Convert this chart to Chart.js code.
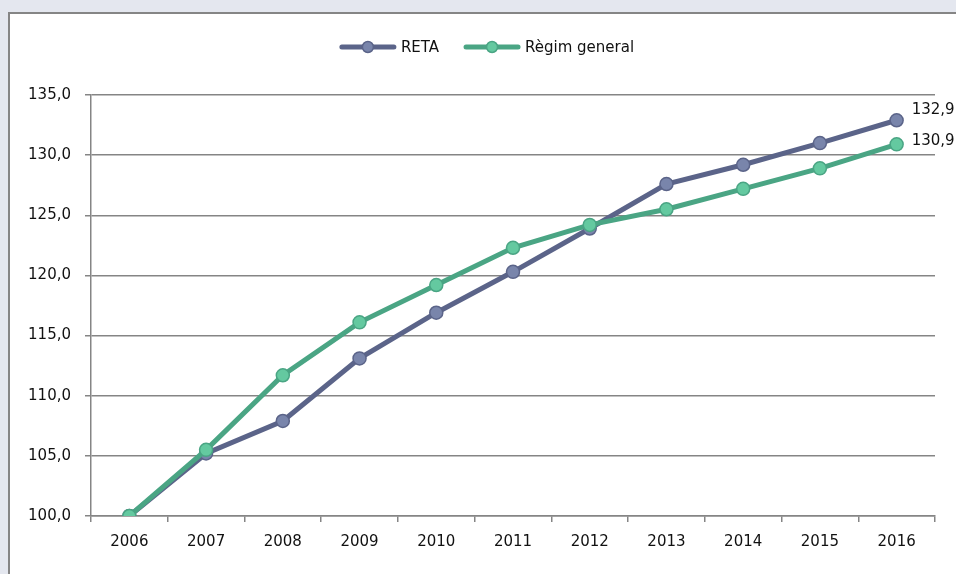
<!DOCTYPE html>
<html>
<head>
<meta charset="utf-8">
<script src="https://cdn.jsdelivr.net/npm/chart.js@4"></script>
<style>
  html, body { margin: 0; padding: 0; }
  body { width: 956px; height: 574px; background: #e4e7ef; overflow: hidden; position: relative; }
  .frame { position: absolute; left: 8px; top: 12px; width: 1000px; height: 620px; background: #fff; border: 2px solid #858585; }
  #indexChart { position: absolute; left: 0; top: 0; }
</style>
</head>
<body>
<div class="frame"></div>
<canvas id="indexChart" width="956" height="574"></canvas>
<script>
// index 2006 = 100
const years = ['2006', '2007', '2008', '2009', '2010', '2011', '2012', '2013', '2014', '2015', '2016'];
const reta = [100, 105.2, 107.9, 113.1, 116.9, 120.3, 123.9, 127.6, 129.2, 131.0, 132.9];
const regimGeneral = [100, 105.5, 111.7, 116.1, 119.2, 122.3, 124.2, 125.5, 127.2, 128.9, 130.9];
const yTicks = [100, 105, 110, 115, 120, 125, 130, 135];

const FONT = 'DejaVu Sans';
const GRID = '#858585';
const fmt = v => v.toFixed(1).replace('.', ',');

// legend: line + circle marker, centred above the plot
const legendPlugin = {
  id: 'topLegend',
  afterDraw(chart) {
    const ctx = chart.ctx;
    const items = chart.data.datasets;
    ctx.save();
    ctx.font = '15px ' + FONT;
    ctx.textBaseline = 'middle';
    const lineW = 56, gap = 5, spacing = 25;
    const widths = items.map(d => lineW + gap + ctx.measureText(d.label).width);
    const total = widths.reduce((a, b) => a + b, 0) + spacing * (items.length - 1);
    let x = (chart.width - total) / 2 + 9;
    const y = 47;
    items.forEach((d, i) => {
      ctx.strokeStyle = d.borderColor;
      ctx.lineWidth = 5;
      ctx.lineCap = 'round';
      ctx.beginPath();
      ctx.moveTo(x + 2, y);
      ctx.lineTo(x + lineW - 2, y);
      ctx.stroke();
      ctx.beginPath();
      ctx.arc(x + lineW / 2, y, 5.5, 0, Math.PI * 2);
      ctx.fillStyle = d.pointBackgroundColor;
      ctx.fill();
      ctx.lineWidth = 1.5;
      ctx.stroke();
      ctx.fillStyle = '#111';
      ctx.fillText(d.label, x + lineW + gap, y + 1);
      x += widths[i] + spacing;
    });
    ctx.restore();
  }
};

// value label beside the last point of each series
const endLabels = {
  id: 'endLabels',
  afterDatasetsDraw(chart) {
    const ctx = chart.ctx;
    ctx.save();
    ctx.font = '15px ' + FONT;
    ctx.fillStyle = '#111';
    ctx.textBaseline = 'middle';
    chart.data.datasets.forEach((d, i) => {
      const meta = chart.getDatasetMeta(i);
      const pt = meta.data[meta.data.length - 1];
      const val = d.data[d.data.length - 1];
      ctx.fillText(fmt(val), pt.x + 15, pt.y + d.labelShift);
    });
    ctx.restore();
  }
};

new Chart(document.getElementById('indexChart'), {
  type: 'line',
  data: {
    labels: years,
    datasets: [
      {
        label: 'RETA',
        data: reta,
        order: 1,
        borderColor: '#5b6489',
        borderWidth: 5,
        pointBackgroundColor: '#7985ab',
        pointBorderColor: '#5b6489',
        pointBorderWidth: 1.5,
        pointRadius: 6.5,
        tension: 0,
        labelShift: -10
      },
      {
        label: 'Règim general',
        data: regimGeneral,
        order: 0,
        borderColor: '#4aa584',
        borderWidth: 5,
        pointBackgroundColor: '#64c9a0',
        pointBorderColor: '#4aa584',
        pointBorderWidth: 1.5,
        pointRadius: 6.5,
        tension: 0,
        labelShift: -3
      }
    ]
  },
  options: {
    responsive: false,
    animation: false,
    devicePixelRatio: 1,
    layout: { padding: { left: 0, right: 21, top: 95, bottom: 0 } },
    plugins: { legend: { display: false }, tooltip: { enabled: false } },
    scales: {
      x: {
        offset: true,
        afterFit(s) { s.height = 58; },
        grid: { offset: true, drawOnChartArea: false, drawTicks: true, tickLength: 6, color: GRID, lineWidth: 1.5 },
        border: { color: GRID, width: 1.5 },
        ticks: { color: '#111', font: { family: FONT, size: 15 }, padding: 11, maxRotation: 0, autoSkip: false }
      },
      y: {
        min: 100,
        max: 135,
        afterFit(s) { s.width = 91; },
        afterBuildTicks(s) { s.ticks = yTicks.map(v => ({ value: v })); },
        grid: { color: GRID, lineWidth: 1.5, tickLength: 6 },
        border: { color: GRID, width: 1.5 },
        ticks: { color: '#111', font: { family: FONT, size: 15 }, padding: 14, callback: v => fmt(v) }
      }
    }
  },
  plugins: [legendPlugin, endLabels]
});
</script>
</body>
</html>
